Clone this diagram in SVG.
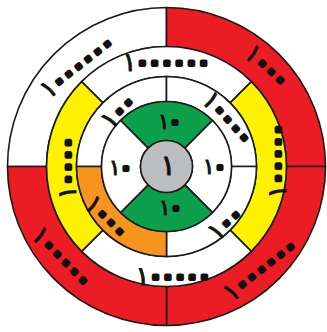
<svg xmlns="http://www.w3.org/2000/svg" width="327" height="332" viewBox="0 0 327 332">
<style>
.seg{stroke:#1a1a1a;stroke-width:1.6;stroke-linejoin:round}
.w{fill:#ffffff}.r{fill:#ec1c24}.y{fill:#fff200}.g{fill:#0e9f4d}.o{fill:#f7941d}.c{fill:#bdbec0}
.t{font-family:"DejaVu Sans",sans-serif;font-weight:bold;fill:#111;text-anchor:middle;dominant-baseline:central;stroke:#111;stroke-width:0.6;stroke-linejoin:round}
.z{stroke-width:4.2}
.t4{font-size:20px;letter-spacing:2.4px}.t1{font-size:17px;letter-spacing:1px}.t0{font-size:28px;font-weight:normal}
.n{font-size:1.3em;font-weight:normal;stroke-width:0.9}
</style>
<rect width="327" height="332" fill="#ffffff"/>
<g transform="translate(166.5,166.5)">
<g id="ring4">
<g id="r4-tl"><path class="seg w" d="M -159 0 A 159 159 0 0 1 0 -159 L 0 -120 A 120 120 0 0 0 -120 0 Z"/></g>
<g id="r4-tr"><path class="seg r" d="M 0 -159 A 159 159 0 0 1 159 0 L 120 0 A 120 120 0 0 0 0 -120 Z"/></g>
<g id="r4-br"><path class="seg r" d="M 159 0 A 159 159 0 0 1 0 159 L 0 120 A 120 120 0 0 0 120 0 Z"/></g>
<g id="r4-bl"><path class="seg r" d="M 0 159 A 159 159 0 0 1 -159 0 L -120 0 A 120 120 0 0 0 0 120 Z"/></g>
</g>
<g id="ring3">
<g id="r3-top"><path class="seg w" d="M -84.85 -84.85 A 120 120 0 0 1 84.85 -84.85 L 63.64 -63.64 A 90 90 0 0 0 -63.64 -63.64 Z"/></g>
<g id="r3-right"><path class="seg y" d="M 84.85 -84.85 A 120 120 0 0 1 84.85 84.85 L 63.64 63.64 A 90 90 0 0 0 63.64 -63.64 Z"/></g>
<g id="r3-bottom"><path class="seg w" d="M 84.85 84.85 A 120 120 0 0 1 -84.85 84.85 L -63.64 63.64 A 90 90 0 0 0 63.64 63.64 Z"/></g>
<g id="r3-left"><path class="seg y" d="M -84.85 84.85 A 120 120 0 0 1 -84.85 -84.85 L -63.64 -63.64 A 90 90 0 0 0 -63.64 63.64 Z"/></g>
</g>
<g id="ring2">
<g id="r2-tl"><path class="seg w" d="M -90 0 A 90 90 0 0 1 0 -90 L 0 -65 A 65 65 0 0 0 -65 0 Z"/></g>
<g id="r2-tr"><path class="seg w" d="M 0 -90 A 90 90 0 0 1 90 0 L 65 0 A 65 65 0 0 0 0 -65 Z"/></g>
<g id="r2-br"><path class="seg w" d="M 90 0 A 90 90 0 0 1 0 90 L 0 65 A 65 65 0 0 0 65 0 Z"/></g>
<g id="r2-bl"><path class="seg o" d="M 0 90 A 90 90 0 0 1 -90 0 L -65 0 A 65 65 0 0 0 0 65 Z"/></g>
</g>
<g id="ring1">
<g id="r1-top"><path class="seg g" d="M -45.96 -45.96 A 65 65 0 0 1 45.96 -45.96 L 18.38 -18.38 A 26 26 0 0 0 -18.38 -18.38 Z"/></g>
<g id="r1-right"><path class="seg w" d="M 45.96 -45.96 A 65 65 0 0 1 45.96 45.96 L 18.38 18.38 A 26 26 0 0 0 18.38 -18.38 Z"/></g>
<g id="r1-bottom"><path class="seg g" d="M 45.96 45.96 A 65 65 0 0 1 -45.96 45.96 L -18.38 18.38 A 26 26 0 0 0 18.38 18.38 Z"/></g>
<g id="r1-left"><path class="seg w" d="M -45.96 45.96 A 65 65 0 0 1 -45.96 -45.96 L -18.38 -18.38 A 26 26 0 0 0 -18.38 18.38 Z"/></g>
</g>
<g id="center"><circle class="seg c" r="26"/></g>
</g>
<g id="labels">
<text class="t t4" transform="translate(77,66) rotate(-38)"><tspan class="n">١</tspan><tspan class="z">٠٠٠٠٠٠</tspan></text>
<text class="t t4" transform="translate(267,66) rotate(43)"><tspan class="n">١</tspan><tspan class="z">٠٠٠</tspan></text>
<text class="t t4" transform="translate(62,257) rotate(46)"><tspan class="n">١</tspan><tspan class="z">٠٠٠٠٠</tspan></text>
<text class="t t4" transform="translate(260,269) rotate(-38)"><tspan class="n">١</tspan><tspan class="z">٠٠٠٠٠٠</tspan></text>
<text class="t t4" transform="translate(166,62)"><tspan class="n">١</tspan><tspan class="z">٠٠٠٠٠٠</tspan></text>
<text class="t t4" transform="translate(277,161) rotate(-90)"><tspan class="n">١</tspan><tspan class="z">٠٠٠٠٠</tspan></text>
<text class="t t4" transform="translate(173,276)"><tspan class="n">١</tspan><tspan class="z">٠٠٠٠٠</tspan></text>
<text class="t t4" transform="translate(67,168) rotate(-90)"><tspan class="n">١</tspan><tspan class="z">٠٠٠٠</tspan></text>
<text class="t t4" transform="translate(118,111) rotate(-45)"><tspan class="n">١</tspan><tspan class="z">٠٠</tspan></text>
<text class="t t4" transform="translate(228,118) rotate(48)"><tspan class="n">١</tspan><tspan class="z">٠٠٠٠</tspan></text>
<text class="t t4" transform="translate(107,217) rotate(45)"><tspan class="n">١</tspan><tspan class="z">٠٠٠</tspan></text>
<text class="t t4" transform="translate(225,223) rotate(-42)"><tspan class="n">١</tspan><tspan class="z">٠٠</tspan></text>
<text class="t t1" x="169" y="121"><tspan class="n">١</tspan><tspan class="z">٠</tspan></text>
<text class="t t1" x="120" y="167"><tspan class="n">١</tspan><tspan class="z">٠</tspan></text>
<text class="t t1" x="214" y="166"><tspan class="n">١</tspan><tspan class="z">٠</tspan></text>
<text class="t t1" x="170" y="207"><tspan class="n">١</tspan><tspan class="z">٠</tspan></text>
<text class="t t0" x="168" y="165" style="stroke-width:1">١</text>
</g>
<g id="connectors"/>
</svg>
